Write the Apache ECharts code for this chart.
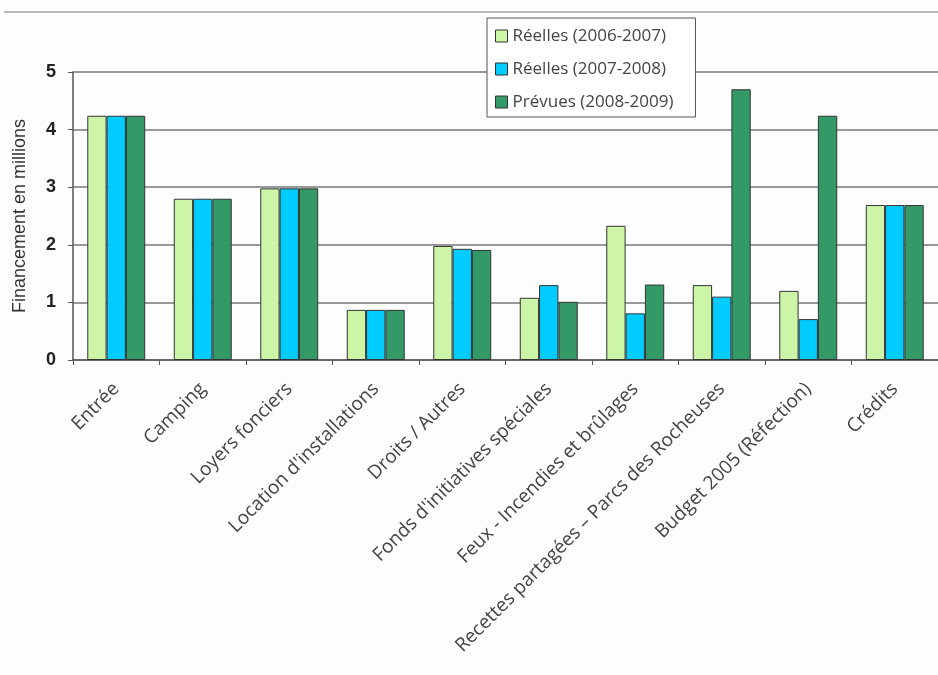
<!DOCTYPE html>
<html>
<head>
<meta charset="utf-8">
<script src="https://cdn.jsdelivr.net/npm/echarts@6/dist/echarts.min.js"></script>
<style>
html,body{margin:0;padding:0;background:#fdfdfd;}
#c{width:938px;height:675px;}
</style>
</head>
<body>
<div id="c"></div>
<script>
const categories = ["Entrée","Camping","Loyers fonciers","Location d'installations","Droits / Autres","Fonds d'initiatives spéciales","Feux - Incendies et brûlages","Recettes partagées – Parcs des Rocheuses","Budget 2005 (Réfection)","Crédits"];
const seriesNames = ["Réelles (2006-2007)","Réelles (2007-2008)","Prévues (2008-2009)"];
const reelles0607 = [4.24, 2.80, 2.98, 0.87, 1.98, 1.08, 2.33, 1.30, 1.20, 2.69];
const reelles0708 = [4.24, 2.80, 2.98, 0.87, 1.93, 1.30, 0.81, 1.10, 0.71, 2.69];
const prevues0809 = [4.24, 2.80, 2.98, 0.87, 1.91, 1.01, 1.31, 4.70, 4.24, 2.69];
const yTicks = [0,1,2,3,4,5];
const colors = ["#ccf5a8","#00ccff","#339966"];

const chart = echarts.init(document.getElementById('c'), null, {renderer:'canvas'});
const mk = (name, data, i) => ({
  name, type:'bar', data,
  barGap:'0%', barCategoryGap:'33%',
  itemStyle:{color:colors[i], borderColor:'#333', borderWidth:1},
  emphasis:{disabled:true}
});
chart.setOption({
  animation:false,
  backgroundColor:'#fdfdfd',
  grid:{left:73, right:0, top:72, bottom:315, containLabel:false},
  graphic:[{type:'line', shape:{x1:4,y1:12,x2:938,y2:12}, style:{stroke:'#777', lineWidth:1}}],
  legend:{
    orient:'vertical', left:487, top:18,
    data:seriesNames,
    backgroundColor:'#ffffff', borderColor:'#555', borderWidth:1,
    padding:[8,22,5,8], itemGap:13,
    itemWidth:12, itemHeight:12, icon:'rect',
    itemStyle:{borderColor:'#333', borderWidth:1},
    textStyle:{fontFamily:'Open Sans', fontSize:17, lineHeight:20, color:'#444'}
  },
  xAxis:{
    type:'category', data:categories,
    axisLine:{lineStyle:{color:'#555', width:1.5}},
    axisTick:{show:true, alignWithLabel:false, length:5, lineStyle:{color:'#555'}},
    axisLabel:{rotate:45, interval:0, margin:26, fontFamily:'Open Sans', fontSize:19, color:'#444'}
  },
  yAxis:{
    type:'value', min:0, max:5, interval:1,
    name:'Financement en millions', nameLocation:'middle', nameGap:44, nameRotate:90,
    nameTextStyle:{fontFamily:'Liberation Sans', fontSize:18, color:'#333'},
    axisLine:{show:true, lineStyle:{color:'#555', width:1.5}},
    axisTick:{show:true, length:5, lineStyle:{color:'#555'}},
    axisLabel:{fontFamily:'Liberation Sans', fontWeight:'bold', fontSize:18, color:'#222', margin:17,
      formatter:v => yTicks.includes(v) ? String(v) : ''},
    splitLine:{lineStyle:{color:'#777', width:1.5}}
  },
  series:[mk(seriesNames[0], reelles0607, 0), mk(seriesNames[1], reelles0708, 1), mk(seriesNames[2], prevues0809, 2)]
});
</script>
</body>
</html>
